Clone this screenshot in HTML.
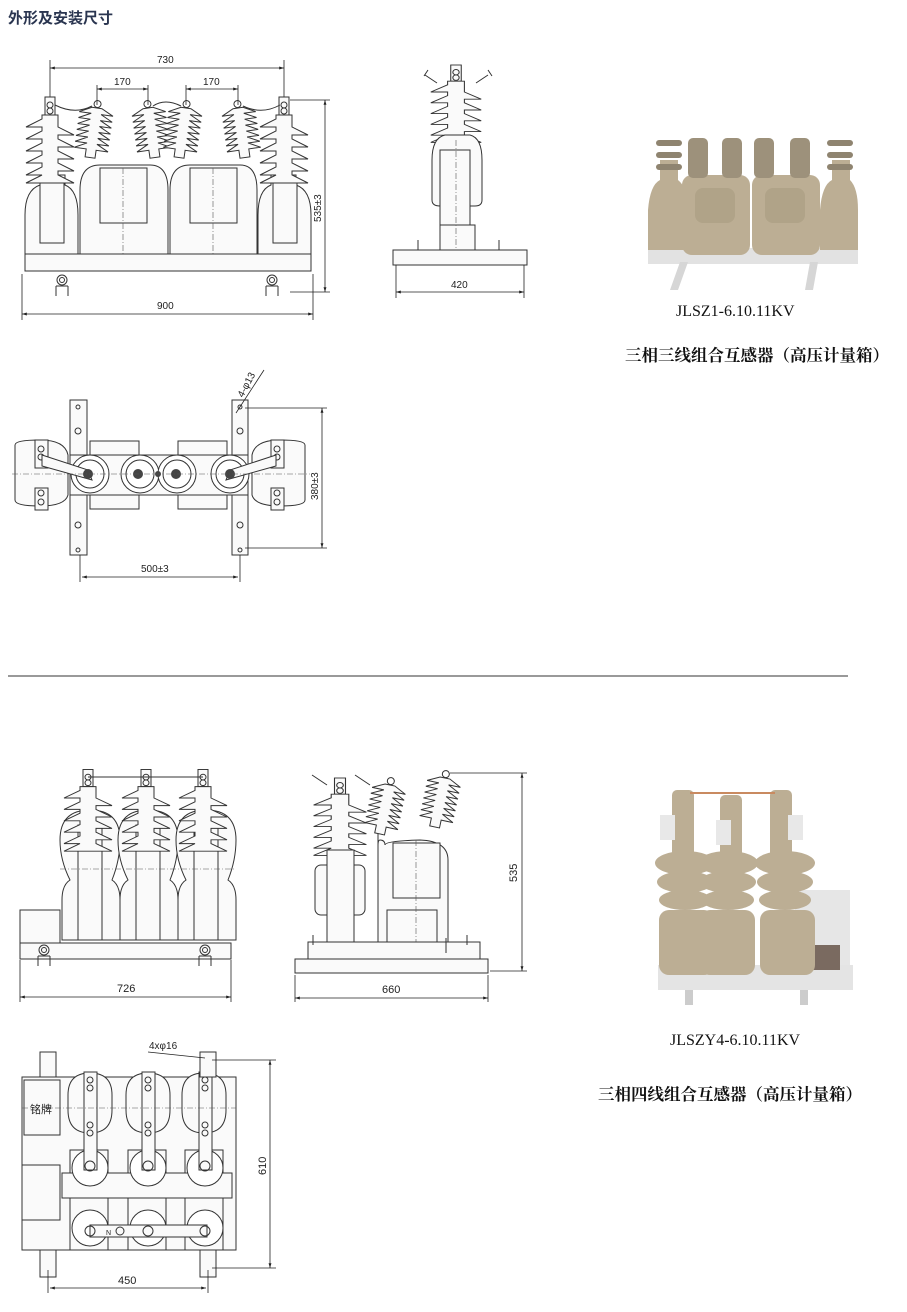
<!DOCTYPE html>
<html><head><meta charset="utf-8"><style>
html,body{margin:0;padding:0;background:#fff;}
svg{display:block;}
text{font-family:"Liberation Sans","Noto Sans CJK SC",sans-serif;fill:#222;}
.s{fill:none;stroke:#333;stroke-width:1;}
.f{fill:#fafafa;stroke:#333;stroke-width:1;}
.d{stroke:#222;stroke-width:0.8;fill:none;}
.c{stroke:#555;stroke-width:0.6;stroke-dasharray:6 2 1 2;fill:none;}
.ph{fill:#bcae94;}
.pd{fill:#8f8470;}
.cap{font-family:"Liberation Serif","Noto Serif CJK SC",serif;fill:#111;}
</style></head><body>
<svg width="907" height="1312" viewBox="0 0 907 1312" xmlns="http://www.w3.org/2000/svg">
<defs>
<marker id="a" viewBox="0 0 10 10" refX="10" refY="5" markerWidth="6" markerHeight="6" orient="auto-start-reverse"><path d="M0,2 L10,5 L0,8 z" fill="#222"/></marker>
<g id="post">
<rect x="-5" y="-30" width="10" height="18" class="f"/>
<circle cx="0" cy="-22" r="3" class="s"/><circle cx="0" cy="-16" r="3" class="s"/>
<path class="f" d="M-8,-12 h16 v12 l16,8 h-16 v4 l16,8 h-16 v4 l16,8 h-16 v4 l16,8 h-16 v4 l16,8 h-48 l16,-8 h-16 v0 l16,-8 v-4 h-16 l16,-8 v-4 h-16 l16,-8 v-4 h-16 l16,-8 v-4 h-16 l16,-8 z"/>
</g>
<g id="slant">
<circle cx="0" cy="-4" r="3.5" class="s"/>
<path class="f" d="M-5,0 h10 l12,6 h-12 l12,6 h-12 l12,6 h-12 l12,6 h-12 l12,6 h-12 l12,6 h-12 l12,6 h-12 v8 h-10 v-8 h-12 l12,-6 h-12 l12,-6 h-12 l12,-6 h-12 l12,-6 h-12 l12,-6 h-12 l12,-6 h-12 z"/>
</g>
<g id="bolt"><circle r="5" class="s"/><circle r="2.5" class="s"/><path class="s" d="M-6,6 v10 M6,6 v10 M-6,6 h12"/></g>
</defs>

<text x="8" y="23" font-size="15" font-weight="bold" fill="#2a3550" style="fill:#2a3550">外形及安装尺寸</text>

<!-- ===== Top front view ===== -->
<g>
<line class="d" x1="50" y1="68" x2="284" y2="68" marker-start="url(#a)" marker-end="url(#a)"/>
<line class="d" x1="50" y1="60" x2="50" y2="100"/><line class="d" x1="284" y1="60" x2="284" y2="100"/>
<text x="157" y="63" font-size="10">730</text>
<line class="d" x1="97" y1="89" x2="148" y2="89" marker-start="url(#a)" marker-end="url(#a)"/>
<line class="d" x1="97" y1="85" x2="97" y2="105"/><line class="d" x1="148" y1="85" x2="148" y2="105"/>
<text x="114" y="85" font-size="10">170</text>
<line class="d" x1="186" y1="89" x2="238" y2="89" marker-start="url(#a)" marker-end="url(#a)"/>
<line class="d" x1="186" y1="85" x2="186" y2="105"/><line class="d" x1="238" y1="85" x2="238" y2="105"/>
<text x="203" y="85" font-size="10">170</text>
<!-- bodies -->
<path class="f" d="M25,270 V215 Q25,190 40,185 V175 H65 V185 Q78,190 78,215 V270 Z"/>
<rect x="40" y="178" width="24" height="65" class="f"/>
<path class="f" d="M258,270 V215 Q258,190 271,185 V175 H296 V185 Q311,190 311,215 V270 Z"/>
<rect x="273" y="178" width="24" height="65" class="f"/>
<path class="f" d="M80,270 V190 Q80,165 100,165 H150 Q168,165 168,190 V270 Z"/>
<rect x="100" y="168" width="47" height="55" class="f"/>
<path class="f" d="M170,270 V190 Q170,165 190,165 H240 Q257,165 257,190 V270 Z"/>
<rect x="190" y="168" width="47" height="55" class="f"/>
<line class="c" x1="123" y1="168" x2="123" y2="270"/><line class="c" x1="213" y1="168" x2="213" y2="270"/>
<use href="#slant" transform="translate(97,108) rotate(8)"/>
<use href="#slant" transform="translate(148,108) rotate(-8)"/>
<use href="#slant" transform="translate(186,108) rotate(8)"/>
<use href="#slant" transform="translate(238,108) rotate(-8)"/>
<use href="#post" transform="translate(50,127)"/>
<use href="#post" transform="translate(284,127)"/>
<path class="s" d="M55,105 Q75,115 92,106 M153,106 Q165,98 181,106 M243,106 Q262,115 280,105"/>
<rect x="25" y="254" width="286" height="17" class="f"/>
<use href="#bolt" transform="translate(62,280)"/>
<use href="#bolt" transform="translate(272,280)"/>
<line class="d" x1="22" y1="274" x2="22" y2="320"/><line class="d" x1="313" y1="274" x2="313" y2="320"/>
<line class="d" x1="22" y1="314" x2="313" y2="314" marker-start="url(#a)" marker-end="url(#a)"/>
<text x="157" y="309" font-size="10">900</text>
<line class="d" x1="290" y1="100" x2="330" y2="100"/><line class="d" x1="290" y1="292" x2="330" y2="292"/>
<line class="d" x1="325" y1="100" x2="325" y2="292" marker-start="url(#a)" marker-end="url(#a)"/>
<text transform="translate(321,222) rotate(-90)" font-size="10">535±3</text>
</g>

<!-- ===== Top side view ===== -->
<g>
<path class="s" d="M425,75 l12,8 M488,75 l-12,8 M428,70 l-4,6 M488,70 l4,6"/>
<use href="#post" transform="translate(456,92) scale(1.05,0.9)"/>
<path class="f" d="M432,200 V160 Q432,138 445,135 H470 Q482,138 482,160 V200 Q482,206 475,206 H440 Q432,206 432,200 Z"/>
<rect x="440" y="150" width="30" height="100" class="f"/>
<rect x="440" y="225" width="35" height="25" class="f"/>
<line class="c" x1="456" y1="140" x2="456" y2="250"/>
<rect x="393" y="250" width="134" height="15" class="f"/>
<path class="s" d="M418,240 v10 M499,240 v10"/>
<line class="d" x1="396" y1="265" x2="396" y2="298"/><line class="d" x1="524" y1="265" x2="524" y2="298"/>
<line class="d" x1="396" y1="292" x2="524" y2="292" marker-start="url(#a)" marker-end="url(#a)"/>
<text x="451" y="288" font-size="10">420</text>
</g>

<!-- ===== Top plan view ===== -->
<g>
<rect x="70" y="400" width="17" height="155" class="f"/>
<rect x="232" y="400" width="16" height="155" class="f"/>
<rect x="90" y="441" width="49" height="14" class="f"/><rect x="178" y="441" width="49" height="14" class="f"/>
<rect x="90" y="495" width="49" height="14" class="f"/><rect x="178" y="495" width="49" height="14" class="f"/>
<rect x="70" y="455" width="178" height="40" class="f"/>
<path class="f" d="M15,445 Q15,440 40,440 Q65,440 68,455 V495 Q65,506 40,506 Q15,506 15,500 Z"/>
<path class="f" d="M305,445 Q305,440 280,440 Q255,440 252,455 V495 Q255,506 280,506 Q305,506 305,500 Z"/>
<rect x="35" y="440" width="13" height="28" class="f"/><rect x="35" y="488" width="13" height="22" class="f"/>
<rect x="271" y="440" width="13" height="28" class="f"/><rect x="271" y="488" width="13" height="22" class="f"/>
<circle cx="41" cy="449" r="3" class="s"/><circle cx="41" cy="457" r="3" class="s"/><circle cx="41" cy="493" r="3" class="s"/><circle cx="41" cy="502" r="3" class="s"/>
<circle cx="277" cy="449" r="3" class="s"/><circle cx="277" cy="457" r="3" class="s"/><circle cx="277" cy="493" r="3" class="s"/><circle cx="277" cy="502" r="3" class="s"/>
<g fill="#fff" stroke="#333">
<circle cx="90" cy="474" r="19"/><circle cx="90" cy="474" r="14"/>
<circle cx="140" cy="474" r="19"/><circle cx="140" cy="474" r="14"/>
<circle cx="177" cy="474" r="19"/><circle cx="177" cy="474" r="14"/>
<circle cx="230" cy="474" r="19"/><circle cx="230" cy="474" r="14"/>
</g>
<path class="f" d="M42,455 L88,470 L92,480 L42,466 Z"/>
<path class="f" d="M276,455 L230,470 L226,480 L276,466 Z"/>
<circle cx="88" cy="474" r="5" fill="#444"/><circle cx="138" cy="474" r="5" fill="#444"/><circle cx="176" cy="474" r="5" fill="#444"/><circle cx="230" cy="474" r="5" fill="#444"/><circle cx="158" cy="474" r="3" fill="#444"/>
<line class="c" x1="12" y1="474" x2="310" y2="474"/>
<circle cx="78" cy="407" r="2" class="s"/><circle cx="78" cy="431" r="3" class="s"/><circle cx="78" cy="525" r="3" class="s"/><circle cx="78" cy="550" r="2" class="s"/>
<circle cx="240" cy="407" r="2" class="s"/><circle cx="240" cy="431" r="3" class="s"/><circle cx="240" cy="525" r="3" class="s"/><circle cx="240" cy="550" r="2" class="s"/>
<line class="d" x1="236" y1="413" x2="264" y2="370"/>
<text transform="translate(243,398) rotate(-62)" font-size="10">4-φ13</text>
<line class="d" x1="245" y1="408" x2="327" y2="408"/><line class="d" x1="245" y1="548" x2="327" y2="548"/>
<line class="d" x1="322" y1="408" x2="322" y2="548" marker-start="url(#a)" marker-end="url(#a)"/>
<text transform="translate(318,500) rotate(-90)" font-size="10">380±3</text>
<line class="d" x1="80" y1="555" x2="80" y2="582"/><line class="d" x1="240" y1="555" x2="240" y2="582"/>
<line class="d" x1="82" y1="577" x2="238" y2="577" marker-start="url(#a)" marker-end="url(#a)"/>
<text x="141" y="572" font-size="10">500±3</text>
</g>

<!-- ===== Photo 1 ===== -->
<g>
<rect x="648" y="248" width="210" height="16" fill="#e2e2e2"/>
<path d="M680,262 l-10,28 h8 l10,-28 Z M810,262 l-5,28 h8 l5,-28 Z" fill="#d6d6d6"/>
<path class="ph" d="M648,250 V210 Q650,185 660,180 V160 H678 V180 Q688,188 690,210 V250 Z"/>
<path class="ph" d="M820,250 V210 Q822,185 832,180 V160 H850 V180 Q858,188 858,210 V250 Z"/>
<rect x="682" y="175" width="68" height="80" rx="10" class="ph"/>
<rect x="752" y="175" width="68" height="80" rx="10" class="ph"/>
<rect x="695" y="188" width="40" height="35" rx="8" fill="#b0a388"/>
<rect x="765" y="188" width="40" height="35" rx="8" fill="#b0a388"/>
<g class="pd">
<rect x="656" y="140" width="26" height="6" rx="3"/><rect x="656" y="152" width="26" height="6" rx="3"/><rect x="656" y="164" width="26" height="6" rx="3"/>
<rect x="827" y="140" width="26" height="6" rx="3"/><rect x="827" y="152" width="26" height="6" rx="3"/><rect x="827" y="164" width="26" height="6" rx="3"/>
</g>
<g fill="#9d917b">
<rect x="688" y="138" width="20" height="40" rx="5"/><rect x="722" y="138" width="20" height="40" rx="5"/>
<rect x="754" y="138" width="20" height="40" rx="5"/><rect x="790" y="138" width="20" height="40" rx="5"/>
</g>
</g>
<text x="676" y="316" font-size="16" class="cap">JLSZ1-6.10.11KV</text>
<text x="625" y="361" font-size="16.5" class="cap" font-weight="bold">三相三线组合互感器（高压计量箱）</text>

<line x1="8" y1="676" x2="848" y2="676" stroke="#333" stroke-width="1"/>

<!-- ===== Bottom front view ===== -->
<g>
<rect x="20" y="910" width="40" height="33" class="f"/>
<path class="f" d="M62,940 V900 Q62,885 70,880 Q60,860 60,840 Q60,810 90,810 Q120,810 120,840 Q120,860 112,880 Q120,885 120,900 V940 Z"/>
<path class="f" d="M120,940 V900 Q120,885 128,880 Q118,860 118,840 Q118,810 148,810 Q178,810 178,840 Q178,860 170,880 Q178,885 178,900 V940 Z"/>
<path class="f" d="M178,940 V900 Q178,885 186,880 Q176,860 176,840 Q176,810 206,810 Q236,810 236,840 Q236,860 228,880 Q236,885 236,900 V940 Z"/>
<rect x="78" y="825" width="24" height="115" class="f"/><rect x="136" y="825" width="24" height="115" class="f"/><rect x="194" y="825" width="24" height="115" class="f"/>
<line class="c" x1="60" y1="869" x2="236" y2="869"/>
<use href="#post" transform="translate(88,798) scale(1,0.95)"/>
<use href="#post" transform="translate(146,798) scale(1,0.95)"/>
<use href="#post" transform="translate(203,798) scale(1,0.95)"/>
<line class="s" x1="88" y1="777" x2="203" y2="777"/>
<rect x="20" y="943" width="211" height="16" class="f"/>
<use href="#bolt" transform="translate(44,950)"/><use href="#bolt" transform="translate(205,950)"/>
<line class="d" x1="20" y1="960" x2="20" y2="1002"/><line class="d" x1="231" y1="960" x2="231" y2="1002"/>
<line class="d" x1="20" y1="997" x2="231" y2="997" marker-start="url(#a)" marker-end="url(#a)"/>
<text x="117" y="992" font-size="11">726</text>
</g>

<!-- ===== Bottom side view ===== -->
<g>
<path class="s" d="M312,775 l15,10 M355,775 l15,10"/>
<use href="#post" transform="translate(340,805) scale(1.1,0.9)"/>
<rect x="315" y="865" width="50" height="50" rx="6" class="f"/>
<rect x="327" y="850" width="27" height="93" class="f"/>
<path class="f" d="M378,942 V830 Q378,840 378,845 Q378,840 380,840 Q385,840 385,845 Q385,841 420,840 Q448,841 448,860 V942 Z"/>
<rect x="393" y="843" width="47" height="55" class="f"/>
<rect x="387" y="910" width="50" height="32" class="f"/>
<line class="c" x1="416" y1="840" x2="416" y2="942"/>
<use href="#slant" transform="translate(390,785) rotate(12)"/>
<use href="#slant" transform="translate(445,778) rotate(12)"/>
<rect x="308" y="942" width="172" height="17" class="f"/>
<rect x="295" y="959" width="193" height="14" class="f"/>
<path class="s" d="M313,935 v10 M467,935 v10 M446,938 v15"/>
<line class="d" x1="295" y1="975" x2="295" y2="1002"/><line class="d" x1="488" y1="975" x2="488" y2="1002"/>
<line class="d" x1="295" y1="998" x2="488" y2="998" marker-start="url(#a)" marker-end="url(#a)"/>
<text x="382" y="993" font-size="11">660</text>
<line class="d" x1="450" y1="773" x2="527" y2="773"/><line class="d" x1="490" y1="971" x2="527" y2="971"/>
<line class="d" x1="522" y1="773" x2="522" y2="971" marker-start="url(#a)" marker-end="url(#a)"/>
<text transform="translate(517,882) rotate(-90)" font-size="11">535</text>
</g>

<!-- ===== Bottom plan view ===== -->
<g>
<rect x="22" y="1077" width="214" height="173" class="f"/>
<rect x="24" y="1080" width="36" height="55" class="f"/>
<text x="30" y="1113" font-size="11">铭牌</text>
<rect x="22" y="1165" width="38" height="55" class="f"/>
<g>
<path class="f" d="M68,1095 Q68,1073 90,1073 Q112,1073 112,1095 V1110 Q112,1133 90,1133 Q68,1133 68,1110 Z"/>
<path class="f" d="M126,1095 Q126,1073 148,1073 Q170,1073 170,1095 V1110 Q170,1133 148,1133 Q126,1133 126,1110 Z"/>
<path class="f" d="M182,1095 Q182,1073 204,1073 Q226,1073 226,1095 V1110 Q226,1133 204,1133 Q182,1133 182,1110 Z"/>
<rect x="70" y="1150" width="38" height="100" class="f"/><rect x="128" y="1150" width="38" height="100" class="f"/><rect x="185" y="1150" width="38" height="100" class="f"/>
<rect x="62" y="1173" width="170" height="25" class="f"/>
<g fill="#fff" stroke="#333">
<circle cx="90" cy="1168" r="18"/><circle cx="148" cy="1168" r="18"/><circle cx="205" cy="1168" r="18"/>
<circle cx="90" cy="1228" r="18"/><circle cx="148" cy="1228" r="18"/><circle cx="205" cy="1228" r="18"/>
</g>
<rect x="84" y="1072" width="13" height="98" class="f"/><rect x="142" y="1072" width="13" height="98" class="f"/><rect x="199" y="1072" width="13" height="98" class="f"/>
<rect x="90" y="1225" width="117" height="12" class="f"/>
<g class="s"><circle cx="90" cy="1080" r="3"/><circle cx="90" cy="1088" r="3"/><circle cx="148" cy="1080" r="3"/><circle cx="148" cy="1088" r="3"/><circle cx="205" cy="1080" r="3"/><circle cx="205" cy="1088" r="3"/>
<circle cx="90" cy="1125" r="3"/><circle cx="90" cy="1133" r="3"/><circle cx="148" cy="1125" r="3"/><circle cx="148" cy="1133" r="3"/><circle cx="205" cy="1125" r="3"/><circle cx="205" cy="1133" r="3"/>
<circle cx="90" cy="1166" r="5"/><circle cx="148" cy="1166" r="5"/><circle cx="205" cy="1166" r="5"/>
<circle cx="90" cy="1231" r="5"/><circle cx="148" cy="1231" r="5"/><circle cx="205" cy="1231" r="5"/><circle cx="120" cy="1231" r="4"/></g>
<text x="106" y="1235" font-size="7">N</text>
<line class="c" x1="22" y1="1108" x2="236" y2="1108"/>
</g>
<rect x="40" y="1052" width="16" height="25" class="f"/><rect x="200" y="1052" width="16" height="25" class="f"/>
<rect x="40" y="1250" width="16" height="27" class="f"/><rect x="200" y="1250" width="16" height="27" class="f"/>
<line class="d" x1="148" y1="1052" x2="205" y2="1058"/>
<text x="149" y="1049" font-size="10">4xφ16</text>
<line class="d" x1="212" y1="1060" x2="276" y2="1060"/><line class="d" x1="212" y1="1268" x2="276" y2="1268"/>
<line class="d" x1="270" y1="1060" x2="270" y2="1268" marker-start="url(#a)" marker-end="url(#a)"/>
<text transform="translate(266,1175) rotate(-90)" font-size="11">610</text>
<line class="d" x1="48" y1="1270" x2="48" y2="1293"/><line class="d" x1="208" y1="1270" x2="208" y2="1293"/>
<line class="d" x1="50" y1="1288" x2="206" y2="1288" marker-start="url(#a)" marker-end="url(#a)"/>
<text x="118" y="1284" font-size="11">450</text>
</g>

<!-- ===== Photo 2 ===== -->
<g>
<path d="M658,990 V970 H780 L800,890 H850 V990 Z" fill="#e6e6e6"/>
<rect x="658" y="965" width="195" height="25" fill="#e4e4e4"/>
<rect x="685" y="990" width="8" height="15" fill="#ccc"/><rect x="800" y="990" width="8" height="15" fill="#ccc"/>
<rect x="810" y="945" width="30" height="25" fill="#7a6a60"/>
<g class="ph">
<rect x="659" y="910" width="55" height="65" rx="10"/><rect x="700" y="910" width="55" height="65" rx="10"/><rect x="760" y="910" width="55" height="65" rx="10"/>
<ellipse cx="685" cy="863" rx="30" ry="12"/><ellipse cx="685" cy="882" rx="28" ry="11"/><ellipse cx="685" cy="900" rx="26" ry="10"/>
<ellipse cx="728" cy="863" rx="30" ry="12"/><ellipse cx="728" cy="882" rx="28" ry="11"/><ellipse cx="728" cy="900" rx="26" ry="10"/>
<ellipse cx="785" cy="863" rx="30" ry="12"/><ellipse cx="785" cy="882" rx="28" ry="11"/><ellipse cx="785" cy="900" rx="26" ry="10"/>
<rect x="672" y="790" width="22" height="70" rx="5"/><rect x="720" y="795" width="22" height="70" rx="5"/><rect x="770" y="790" width="22" height="70" rx="5"/>
</g>
<path d="M690,793 H775" stroke="#c98a60" stroke-width="2"/>
<g fill="#e8e8e8"><rect x="660" y="815" width="15" height="25"/><rect x="716" y="820" width="15" height="25"/><rect x="788" y="815" width="15" height="25"/></g>
</g>
<text x="670" y="1045" font-size="16" class="cap">JLSZY4-6.10.11KV</text>
<text x="598" y="1100" font-size="16.5" class="cap" font-weight="bold">三相四线组合互感器（高压计量箱）</text>
</svg>
</body></html>
